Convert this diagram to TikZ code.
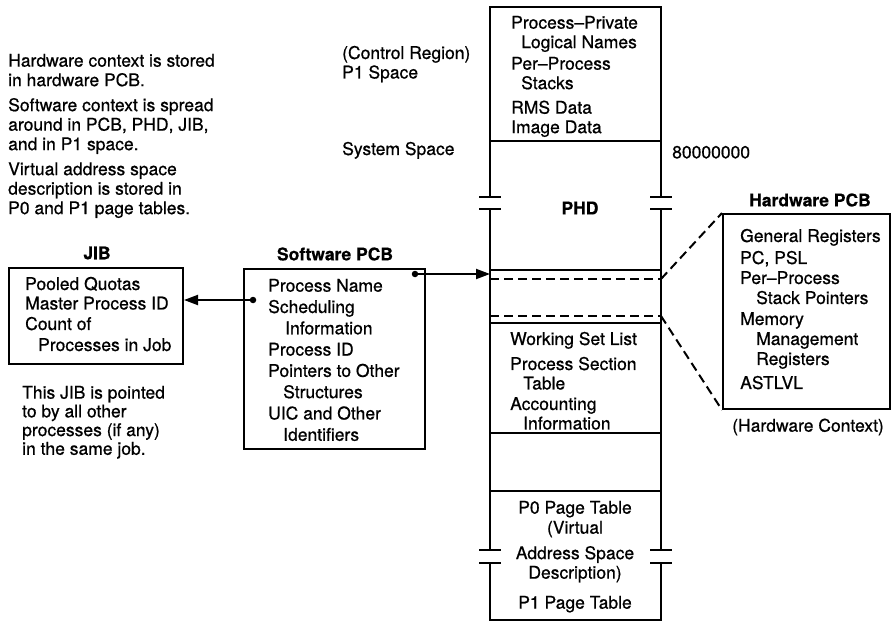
\documentclass[tikz,border=0pt]{standalone}
\usepackage{fontspec}
\setmainfont{TeX Gyre Heros}[UprightFeatures={FakeBold=0.7},BoldFeatures={FakeBold=0.4}]
\usetikzlibrary{arrows.meta}
\newcommand{\fsz}[1]{\fontsize{17.5bp}{#1}\selectfont}
\begin{document}
\begin{tikzpicture}[x=1bp,y=-1bp,
  txt/.style={inner sep=0pt, anchor=north west, align=left, font=\fsz{19.5bp}},
  ctxt/.style={inner sep=0pt, anchor=north, align=center, font=\fsz{19.5bp}},
  ttl/.style={inner sep=0pt, font=\fsz{19.5bp}\bfseries},
  frame/.style={line width=2bp},
  dsh/.style={line width=2bp, dash pattern=on 9bp off 5bp},
  boxst/.style={draw, line width=2bp, inner sep=0pt, anchor=north west},
  ptr/.style={line width=2bp, -{Triangle[length=14bp,width=10bp]}},
  dotc/.style={circle, fill, inner sep=0pt, minimum size=6.5bp}]
\useasboundingbox[fill=white] (0,0) rectangle (891,623);

% ---- central column (P1 space, PHD, page tables) ----
\draw[frame] (490,197) -- (490,7) -- (661,7) -- (661,197);
\draw[frame] (490,209) -- (490,550);
\draw[frame] (661,209) -- (661,550);
\draw[frame] (490,563) -- (490,620) -- (661,620) -- (661,563);
\foreach \yy in {197,209,550,563}{
  \draw[frame] (479,\yy) -- (501,\yy);
  \draw[frame] (650,\yy) -- (672,\yy);
}
\foreach \yy in {141,270,323,433,491}{
  \draw[frame] (490,\yy) -- (661,\yy);
}
\draw[dsh] (490,279) -- (661,279);
\draw[dsh] (490,316) -- (661,316);

\coordinate (c1) at (661,279);
\coordinate (c2) at (661,316);
\coordinate (ptrtgt) at (490,274);

% ---- boxes ----
\node[boxst, minimum width=174bp, minimum height=96bp] (jib) at (8,267) {};
\node[boxst, minimum width=181bp, minimum height=180bp] (spcb) at (243,268) {};
\node[boxst, minimum width=167bp, minimum height=195bp] (hw) at (722,213) {};

% ---- titles ----
\node[ttl] (jibt) at (97,253) {JIB};
\node[ttl] (spcbt) at (335,254) {Software PCB};
\node[ttl] (hwt) at (810,200) {Hardware PCB};
\node[ttl] (phd) at (580,208) {PHD};

% ---- connectors ----
\coordinate (sdot) at (415,274);
\coordinate (jdot) at (253,300);
\draw[ptr] (sdot) -- (ptrtgt);
\draw[ptr] (jdot) -- (jib.east |- jdot);
\node[dotc] (sdotn) at (sdot) {};
\node[dotc] (jdotn) at (jdot) {};
\draw[dsh] (c1) -- (hw.north west);
\draw[dsh] (c2) -- (hw.south west);

% ---- texts ----
\node[txt] (notes) at (8,53.7) {Hardware context is stored\\in hardware PCB.\\[5.5bp]Software context is spread\\around in PCB, PHD, JIB,\\and in P1 space.\\[5.5bp]Virtual address space\\description is stored in\\P0 and P1 page tables.};
\node[txt] (ctrl) at (342,45.7) {(Control Region)\\P1 Space};
\node[txt] (sys) at (342,141.7) {System Space};
\node[txt] (addr) at (672,145.7) {80000000};

\node[txt] (p1txt) at (511,15.7) {Process--Private\\\hspace*{10bp}Logical Names\\[2bp]Per--Process\\\hspace*{10bp}Stacks\\[5bp]RMS Data\\Image Data};

\node[txt] (phdtxt) at (510,331.7) {Working Set List\\[5.5bp]Process Section\\\hspace*{13bp}Table\\[1bp]Accounting\\\hspace*{13bp}Information};

\node[ctxt] (p0pt) at (575,500.7) {P0 Page Table};
\node[ctxt] (vasd) at (575,520.7) {(Virtual\\[6bp]Address Space\\Description)};
\node[ctxt] (p1pt) at (575,595.7) {P1 Page Table};

\node[txt] (jibtxt) at (25,276.7) {Pooled Quotas\\Master Process ID\\[1bp]Count of\\[1.5bp]\hspace*{13bp}Processes in Job};
\node[txt, font=\fsz{18.7bp}] (jibnote) at (22,385.7) {This JIB is pointed\\to by all other\\processes (if any)\\in the same job.};

\node[txt, font=\fsz{21.3bp}] (spcbtxt) at (268,278.7) {Process Name\\Scheduling\\\hspace*{17bp}Information\\Process ID\\Pointers to Other\\\hspace*{15bp}Structures\\UIC and Other\\\hspace*{15bp}Identifiers};

\node[txt, font=\fsz{20bp}] (hwtxt) at (740,228.7) {General Registers\\[2bp]PC, PSL\\Per--Process\\\hspace*{16bp}Stack Pointers\\[1bp]Memory\\\hspace*{16bp}Management\\\hspace*{16bp}Registers\\[4bp]ASTLVL};
\node[inner sep=0pt, font=\fsz{19.5bp}] (hwctx) at (808,427) {(Hardware Context)};
\end{tikzpicture}
\end{document}
